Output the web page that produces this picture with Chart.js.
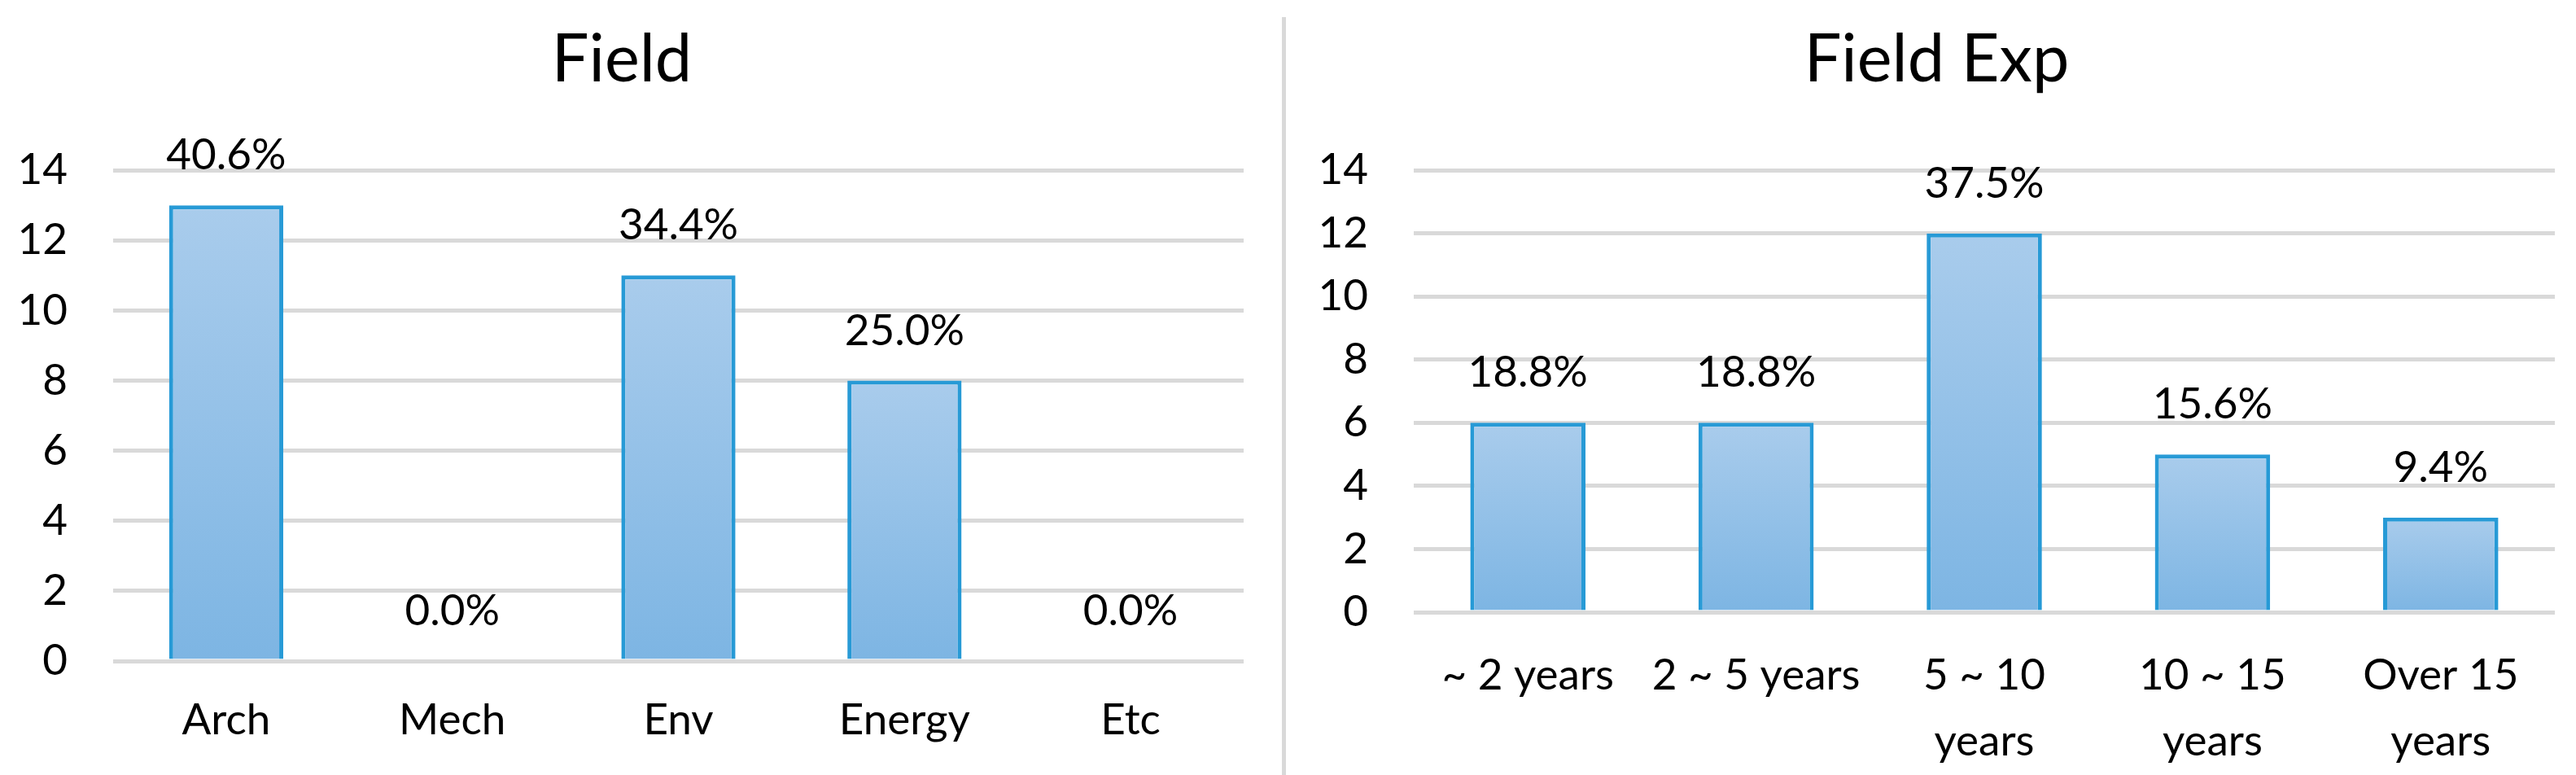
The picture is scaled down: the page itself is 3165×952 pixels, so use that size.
<!DOCTYPE html>
<html>
<head>
<meta charset="utf-8">
<script src="https://cdn.jsdelivr.net/npm/chart.js@4/dist/chart.umd.min.js"></script>
<style>
  html, body { margin: 0; padding: 0; background: #fff; }
  #wrap { position: relative; width: 3165px; height: 952px; overflow: hidden; }
  #grafField { position: absolute; left: 0; top: 0; }
  #grafExp { position: absolute; left: 1620px; top: 0; }
  #divisor { position: absolute; left: 1575px; top: 21px; width: 5px; height: 931px; background: #d9d9d9; }
</style>
</head>
<body>
<div id="wrap">
  <canvas id="grafField" width="1580" height="952"></canvas>
  <div id="divisor"></div>
  <canvas id="grafExp" width="1545" height="952"></canvas>
</div>
<script>
// dados
const fieldLabels = ['Arch', 'Mech', 'Env', 'Energy', 'Etc'];
const fieldCounts = [13, 0, 11, 8, 0];

const expLabels = ['~ 2 years', '2 ~ 5 years', ['5 ~ 10', 'years'], ['10 ~ 15', 'years'], ['Over 15', 'years']];
const expCounts = [6, 6, 12, 5, 3];

const yTicks = [0, 2, 4, 6, 8, 10, 12, 14];

Chart.defaults.font.family = 'Lato';
Chart.defaults.color = '#000';

// gradiente de cada barra (claro em cima, mais escuro embaixo)
function corBarra(context) {
    const chart = context.chart;
    const { ctx, chartArea, scales } = chart;
    if (!chartArea || !scales.y) return '#94c1e8';
    const topo = scales.y.getPixelForValue(context.raw);
    const base = scales.y.getPixelForValue(0);
    if (base - topo < 1) return '#94c1e8';
    const g = ctx.createLinearGradient(0, topo, 0, base);
    g.addColorStop(0, '#a9ccec');
    g.addColorStop(1, '#7db5e3');
    return g;
}

// escreve a porcentagem acima de cada barra
const rotuloPercentual = {
    id: 'rotuloPercentual',
    afterDatasetsDraw(chart) {
        const { ctx } = chart;
        const valores = chart.data.datasets[0].data;
        const total = valores.reduce((a, b) => a + b, 0);
        const meta = chart.getDatasetMeta(0);
        ctx.save();
        ctx.font = '53px Lato';
        ctx.fillStyle = '#000';
        ctx.textAlign = 'center';
        ctx.textBaseline = 'middle';
        meta.data.forEach((barra, i) => {
            const txt = (valores[i] / total * 100).toFixed(1) + '%';
            ctx.fillText(txt, barra.x, barra.y - 61);
        });
        ctx.restore();
    }
};

function criarGrafico(id, titulo, labels, valores, opts) {
    const ctx = document.getElementById(id).getContext('2d');
    return new Chart(ctx, {
        type: 'bar',
        data: {
            labels: labels,
            datasets: [{
                data: valores,
                backgroundColor: corBarra,
                borderColor: '#279ad6',
                borderWidth: 5,
                borderSkipped: 'start',
                barPercentage: 0.505,
                categoryPercentage: 1.0
            }]
        },
        options: {
            responsive: false,
            animation: false,
            devicePixelRatio: 1,
            layout: { padding: { left: 0, right: opts.padRight, top: 0, bottom: 0 } },
            plugins: {
                legend: { display: false },
                tooltip: { enabled: false },
                title: {
                    display: true,
                    text: titulo,
                    color: '#000',
                    font: { family: 'Lato', size: 81, weight: 'normal', lineHeight: 1.2 },
                    padding: { top: 25, bottom: 87 }
                }
            },
            scales: {
                x: {
                    afterFit: (scale) => { scale.height = opts.xHeight; },
                    grid: { display: false, drawTicks: false },
                    border: { display: false },
                    ticks: {
                        color: '#000',
                        padding: opts.xPad,
                        maxRotation: 0,
                        autoSkip: false,
                        font: { family: 'Lato', size: 53, lineHeight: opts.lineHeight }
                    }
                },
                y: {
                    min: 0,
                    max: 14,
                    afterFit: (scale) => { scale.width = opts.yWidth; },
                    afterBuildTicks: (scale) => { scale.ticks = yTicks.map(v => ({ value: v })); },
                    grid: { color: '#d9d9d9', lineWidth: 5, drawTicks: false },
                    border: { display: false },
                    ticks: {
                        color: '#000',
                        padding: 56,
                        font: { family: 'Lato', size: 53 }
                    }
                }
            }
        },
        plugins: [rotuloPercentual]
    });
}

criarGrafico('grafField', 'Field', fieldLabels, fieldCounts,
    { padRight: 52, xHeight: 140, xPad: 33, lineHeight: 1.5, yWidth: 139 });

criarGrafico('grafExp', 'Field Exp', expLabels, expCounts,
    { padRight: 26, xHeight: 200, xPad: 37, lineHeight: 1.53, yWidth: 117 });
</script>
</body>
</html>
